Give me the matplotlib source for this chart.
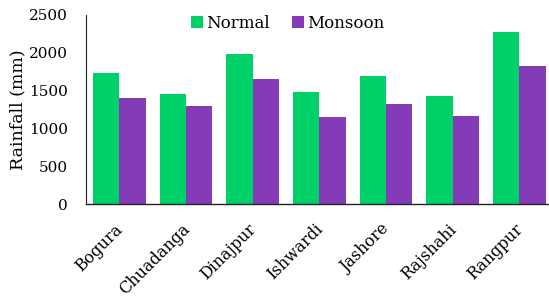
import matplotlib
matplotlib.use("Agg")
import matplotlib.pyplot as plt
import matplotlib.transforms as mtransforms
import numpy as np

stations = ["Bogura", "Chuadanga", "Dinajpur", "Ishwardi", "Jashore", "Rajshahi", "Rangpur"]
normal = [1735, 1460, 1985, 1480, 1695, 1435, 2280]
monsoon = [1405, 1300, 1650, 1150, 1320, 1160, 1825]
yticks = [0, 500, 1000, 1500, 2000, 2500]

plt.rcParams['font.family'] = ['DejaVu Serif']

fig = plt.figure(figsize=(5.49, 2.99), dpi=100)
# axes extends slightly past right edge like the reference
ax = fig.add_axes([86/549, 1 - 204/299, 466.7/549, 189/299])

x = np.arange(len(stations))
w = 0.395
ax.bar(x - w/2, normal, width=w, color="#00d068", label="Normal")
ax.bar(x + w/2, monsoon, width=w, color="#843bb8", label="Monsoon")

ax.set_xlim(-0.5, len(stations) - 0.5)
ax.set_ylim(0, 2500)
ax.set_yticks(yticks)
ax.set_yticklabels([str(t) for t in yticks], fontsize=11)
ax.set_xticks(x)
ax.set_xticklabels(stations, rotation=45, ha="right", rotation_mode="anchor", fontsize=11.5)
ax.tick_params(axis="y", length=0, pad=13)
ax.tick_params(axis="x", length=0, pad=12)
offset = mtransforms.ScaledTranslation(-5/100, 0, fig.dpi_scale_trans)
for lbl in ax.get_xticklabels():
    lbl.set_transform(lbl.get_transform() + offset)
ax.set_ylabel("Rainfall (mm)", fontsize=12.5, labelpad=2)

for s in ["top", "right"]:
    ax.spines[s].set_visible(False)
ax.spines["left"].set_color("#222222")
ax.spines["bottom"].set_color("#222222")
ax.spines["left"].set_linewidth(0.8)
ax.spines["bottom"].set_linewidth(1.0)

ax.legend(loc="center", bbox_to_anchor=(0.432, 0.955), ncol=2, frameon=False,
          fontsize=12, handlelength=0.75, handleheight=0.75, handletextpad=0.2,
          columnspacing=1.3, borderpad=0)

fig.savefig("out.png", dpi=100)
